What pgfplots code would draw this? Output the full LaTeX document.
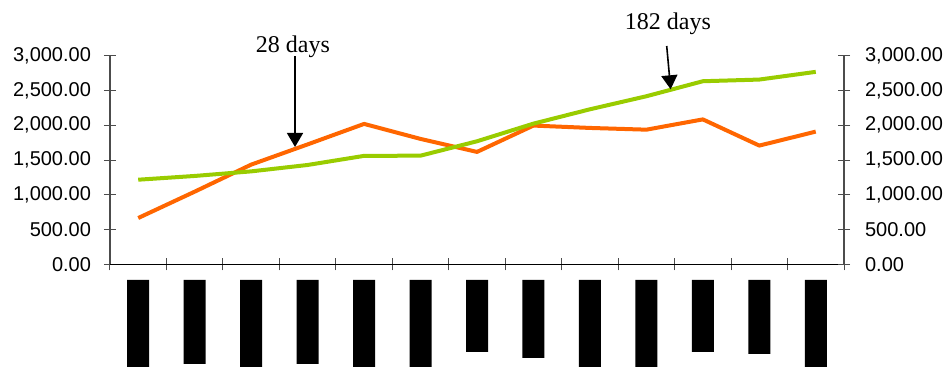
\documentclass[border=0pt]{standalone}
\usepackage{pgfplots}
\pgfplotsset{compat=1.18}
\usepackage{fontspec}
\setmainfont{Liberation Sans}
\newfontfamily\annfont{Liberation Serif}
\usetikzlibrary{arrows.meta}
\definecolor{orangeL}{HTML}{FF6600}
\definecolor{greenL}{HTML}{99CC00}
\pgfplotstableread{
x orange green
0 666 1217
1 1045 1271
2 1434 1337
3 1725 1429
4 2020 1560
5 1804 1563
6 1617 1770
7 1996 2024
8 1962 2230
9 1937 2418
10 2085 2634
11 1708 2658
12 1909 2769
}\linedata
\pgfplotstableread{
x len
0 -87
1 -84
2 -87
3 -84
4 -87
5 -87
6 -72
7 -78
8 -87
9 -87
10 -72
11 -74
12 -87
}\bardata
\begin{document}
\begin{tikzpicture}
\pgfplotsset{
  common/.style={
    scale only axis,
    width=367pt, height=104.25pt,
    xmin=-0.5, xmax=12.5,
    ymin=0, ymax=3000,
    ytick={0,500,...,3000},
    tick align=center,
    major tick length=6pt,
    /pgf/number format/.cd, fixed, fixed zerofill, precision=2, 1000 sep={,}, assume math mode=true,
    /pgfplots/.cd,
    ticklabel style={font=\fontsize{10}{12}\selectfont, text=black},
    every tick/.style={black!70, line width=0.5pt},
  }
}
\begin{axis}[common,
  name=main,
  axis x line*=bottom, axis y line*=left,
  x axis line style={black, line width=0.6pt, -},
  y axis line style={black!70, line width=0.6pt, -},
  xtick={-0.5,0.5,...,12.5},
  xticklabels={},
  yticklabel style={xshift=-3pt},
  clip=false,
]
\addplot[orangeL, line width=2pt, line join=round] table[x=x, y=orange] {\linedata};
\addplot[greenL, line width=2pt, line join=round] table[x=x, y=green] {\linedata};
\draw[line width=0.8pt, -{Triangle[width=8pt,length=7pt]}] (axis cs:2.777,2997) -- (axis cs:2.777,1688);
\node[font=\annfont\fontsize{12}{14}\selectfont, anchor=center] at (axis cs:2.74,3126) {28 days};
\draw[line width=0.8pt, -{Triangle[width=8pt,length=7pt]}] (axis cs:9.36,3141) -- (axis cs:9.43,2518);
\node[font=\annfont\fontsize{12}{14}\selectfont, anchor=center] at (axis cs:9.38,3458) {182 days};
\end{axis}
\begin{axis}[common,
  axis x line=none, axis y line*=right,
  y axis line style={black!70, line width=0.6pt, -},
  yticklabel style={xshift=4pt},
]
\end{axis}
\begin{axis}[
  scale only axis,
  at={(0pt,-51.35pt)}, anchor=south west,
  width=367pt, height=43.5pt,
  xmin=-0.5, xmax=12.5,
  ymin=-87, ymax=0,
  axis lines=none,
  ybar, bar width=11pt, bar shift=0pt,
]
\addplot[fill=black, draw=none] table[x=x, y=len] {\bardata};
\end{axis}
\pgfresetboundingbox
\path (-55pt,-51.35pt) rectangle (419pt,132.15pt);
\end{tikzpicture}
\end{document}
